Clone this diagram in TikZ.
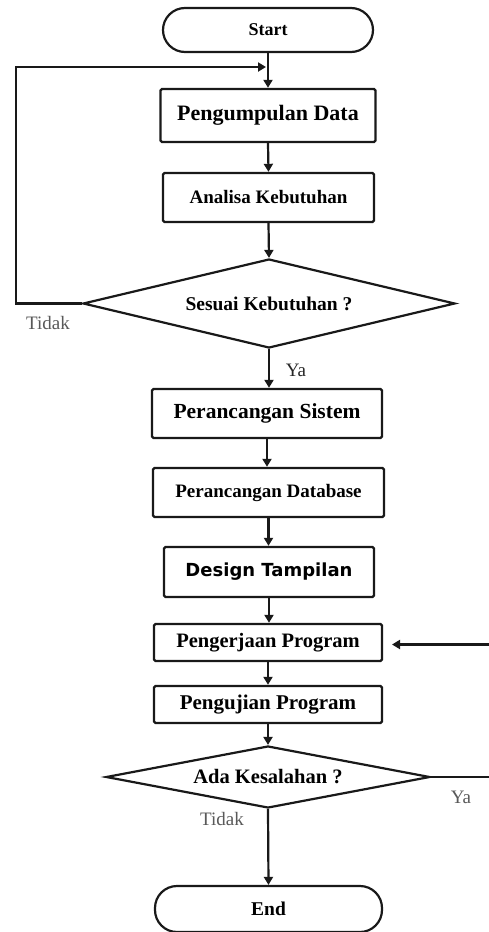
\documentclass[tikz,border=0pt]{standalone}
\usepackage{fontspec}
\setmainfont{Liberation Serif}
\newfontfamily\dvsans{DejaVu Sans}
\usetikzlibrary{shapes.geometric,arrows.meta}
\tikzset{
  boxnode/.style={draw=black!90, line width=2.4pt, rounded corners=1.5pt, inner sep=0pt, font=\bfseries\fontsize{20.5}{22}\selectfont},
  termnode/.style={draw=black!90, line width=2.2pt, rounded corners=22pt, inner sep=0pt, font=\bfseries\fontsize{18}{20}\selectfont},
  decnode/.style={draw=black!90, line width=2.2pt, diamond, inner sep=0pt, font=\bfseries\fontsize{19.5}{21}\selectfont},
  arr/.style={draw=black!90, line width=2.2pt, -{Triangle[width=9pt,length=8pt]}},
  ln/.style={draw=black!90, line width=2.2pt},
  lbl/.style={font=\fontsize{19}{21}\selectfont, text=black!65, inner sep=0pt},
}
\begin{document}
\begin{tikzpicture}[x=1pt,y=-1pt]
\useasboundingbox (0,0) rectangle (488,932);
\fill[white] (0,0) rectangle (488,932);
\node[termnode, minimum width=210pt, minimum height=44pt] (start) at (268,30) {Start};
\node[boxnode, minimum width=215pt, minimum height=53pt, font=\bfseries\fontsize{22}{24}\selectfont] (pd) at (268,115.5) {Pengumpulan Data};
\node[boxnode, minimum width=211pt, minimum height=49pt, font=\bfseries\fontsize{19}{21}\selectfont] (ak) at (268.5,197.5) {Analisa Kebutuhan};
\node[decnode, minimum width=372pt, minimum height=89pt, aspect=4.18] (d1) at (269,303.5) {Sesuai Kebutuhan ?};
\node[boxnode, minimum width=230pt, minimum height=49pt, font=\bfseries\fontsize{21.5}{23}\selectfont] (ps) at (267,413.5) {Perancangan Sistem};
\node[boxnode, minimum width=231pt, minimum height=49pt, font=\bfseries\fontsize{19}{21}\selectfont] (pdb) at (268.5,492.5) {Perancangan Database};
\node[boxnode, minimum width=210pt, minimum height=50pt, font=\dvsans\bfseries\fontsize{18}{20}\selectfont] (dt) at (269,572) {Design Tampilan};
\node[boxnode, minimum width=228pt, minimum height=37pt] (pp) at (268,642.5) {Pengerjaan Program};
\node[boxnode, minimum width=228pt, minimum height=37pt, font=\bfseries\fontsize{21}{23}\selectfont] (pu) at (268,704.5) {Pengujian Program};
\node[decnode, minimum width=324pt, minimum height=62pt, aspect=5.2, font=\bfseries\fontsize{20.5}{22}\selectfont] (d2) at (268,777) {Ada Kesalahan ?};
\node[termnode, minimum width=227pt, minimum height=46pt, font=\bfseries\fontsize{19.5}{21}\selectfont] (end) at (268.5,909) {End};

\coordinate (j1) at (268,67);
\coordinate (c1) at (16,303.5);
\coordinate (c2) at (490,777);
\coordinate (p2) at (392,644.5);

\draw[ln] (start.south) -- (j1);
\draw[arr] (j1) -- (pd.north);
\draw[arr] (pd.south) -- (ak.north);
\draw[arr] (ak.south) -- (d1.north);
\draw[arr] (d1.west) -- (c1) |- ([xshift=-2pt]j1);
\draw[arr] (d1.south) -- (d1.south |- ps.north);
\draw[arr] (ps.south) -- (ps.south |- pdb.north);
\draw[arr] (pdb.south) -- (pdb.south |- dt.north);
\draw[arr] (dt.south) -- (dt.south |- pp.north);
\draw[arr] (pp.south) -- (pu.north);
\draw[arr] (pu.south) -- (d2.north);
\draw[arr] (d2.east) -- (c2) |- (p2);
\draw[arr] (d2.south) -- (end.north);

\node[lbl] (t1) at (48,323) {Tidak};
\node[lbl, text=black!85] (y1) at (296,370) {Ya};
\node[lbl] (t2) at (222,819) {Tidak};
\node[lbl] (y2) at (461,797) {Ya};
\end{tikzpicture}
\end{document}
